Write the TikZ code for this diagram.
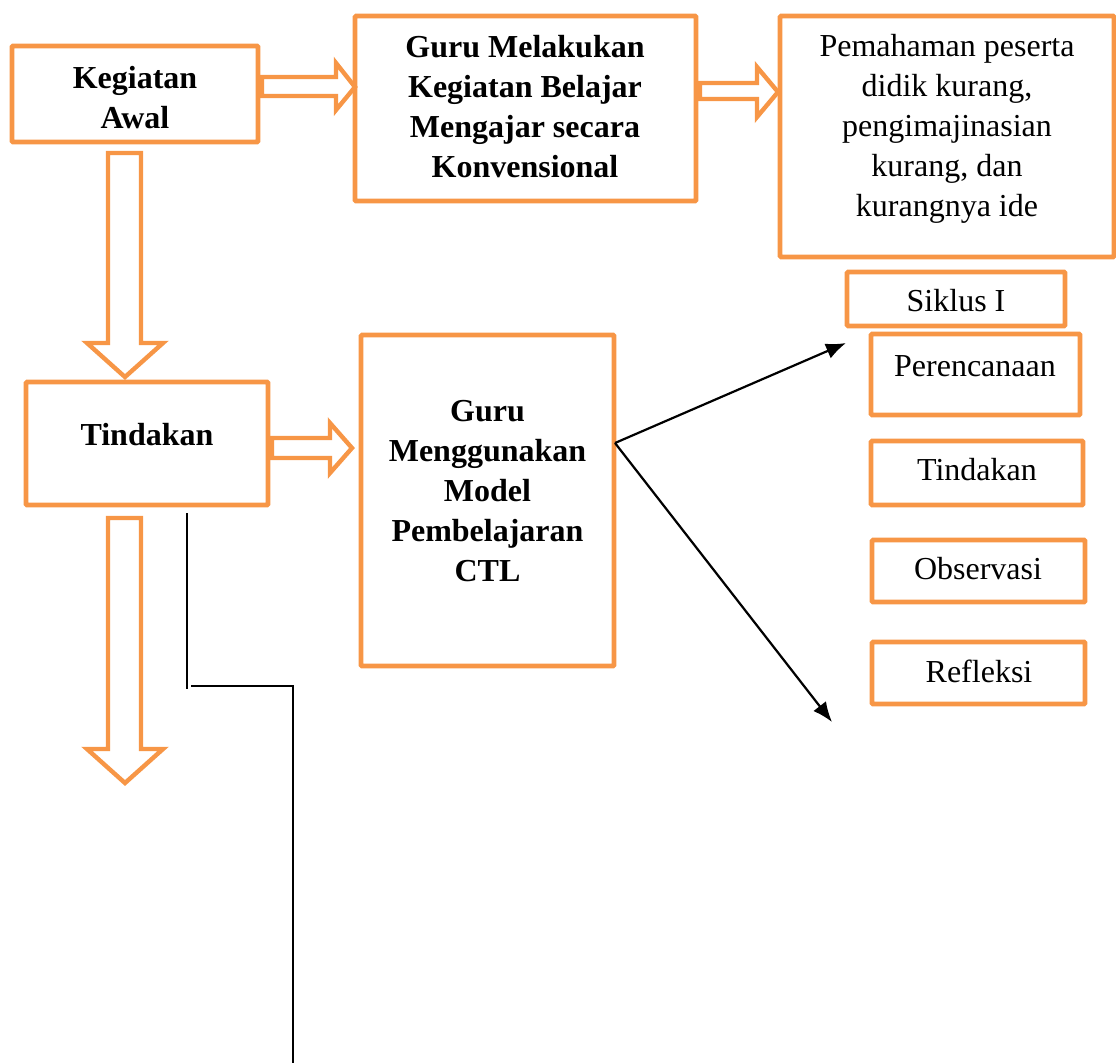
\documentclass[tikz,border=0pt]{standalone}
\usepackage{fontspec}
\setmainfont{Liberation Serif}
\usetikzlibrary{arrows.meta}
\definecolor{obox}{HTML}{F79646}
\tikzset{
  box/.style={draw=obox, line width=4.6pt, rectangle, inner sep=0pt, rounded corners=1pt},
  txt/.style={align=center, inner sep=0pt, font=\fontsize{32}{40}\selectfont},
  btxt/.style={txt, font=\fontsize{32}{40}\selectfont\bfseries},
  blk/.style={draw=obox, fill=white, line width=4.4pt, line join=miter},
  conn/.style={draw=black, line width=2.2pt},
  tip/.style={-{Latex[length=20pt,width=16pt]}}
}
\begin{document}
\begin{tikzpicture}[x=1pt,y=-1pt]
\useasboundingbox (0,0) rectangle (1116,1063);
% boxes
\node[box, minimum width=246pt, minimum height=96pt] (b1) at (135,94) {};
\node[box, minimum width=341pt, minimum height=185pt] (b2) at (525.5,108.5) {};
\node[box, minimum width=334pt, minimum height=241pt] (b3) at (947,136.5) {};
\node[box, minimum width=218pt, minimum height=54pt] (b4) at (956,299) {};
\node[box, minimum width=209pt, minimum height=81pt] (b5) at (975.5,374.5) {};
\node[box, minimum width=212pt, minimum height=64pt] (b6) at (977,473) {};
\node[box, minimum width=213pt, minimum height=62pt] (b7) at (978.5,571) {};
\node[box, minimum width=213pt, minimum height=62pt] (b8) at (978.5,673) {};
\node[box, minimum width=242pt, minimum height=123pt] (b9) at (147,443.5) {};
\node[box, minimum width=253pt, minimum height=331pt] (b10) at (487.5,500.5) {};
% texts
\node[btxt] (t1) at (135,98) {Kegiatan\\Awal};
\node[btxt] (t2) at (525,107) {Guru Melakukan\\Kegiatan Belajar\\Mengajar secara\\Konvensional};
\node[txt] (t3) at (947,129) {Pemahaman peserta\\didik kurang,\\pengimajinasian\\kurang, dan\\kurangnya ide};
\node[txt] (t4) at (956,301) {Siklus I};
\node[txt] (t5) at (975,366) {Perencanaan};
\node[txt] (t6) at (977,470) {Tindakan};
\node[txt] (t7) at (978,569) {Observasi};
\node[txt] (t8) at (979,671.5) {Refleksi};
\node[btxt] (t9) at (147,435) {Tindakan};
\node[btxt] (t10) at (487.5,491.5) {Guru\\Menggunakan\\Model\\Pembelajaran\\CTL};
% block arrows
\draw[blk] (262,77) -- (336,77) -- (336,63) -- (355,87) -- (336,110) -- (336,96) -- (262,96) -- cycle;
\draw[blk] (700,83) -- (757,83) -- (757,67) -- (778,92) -- (757,117) -- (757,99) -- (700,99) -- cycle;
\draw[blk] (272,438) -- (330,438) -- (330,423) -- (352,448) -- (330,473) -- (330,458) -- (272,458) -- cycle;
\draw[blk] (108,153) -- (141,153) -- (141,343) -- (163,343) -- (125,377) -- (87,343) -- (108,343) -- cycle;
\draw[blk] (108,518) -- (141,518) -- (141,749) -- (163,749) -- (125,783) -- (87,749) -- (108,749) -- cycle;
% black connectors
\coordinate (s1) at (615,443);
\coordinate (e1) at (846,343);
\coordinate (e2) at (832,722);
\draw[conn, tip] (s1) -- (e1);
\draw[conn, tip] (s1) -- (e2);
\coordinate (v1) at (187,513);
\coordinate (v2) at (187,689);
\coordinate (h1) at (191,686);
\coordinate (h2) at (293,686);
\coordinate (h3) at (293,1063);
\draw[conn] (v1) -- (v2);
\draw[conn] (h1) -- (h2) -- (h3);
\end{tikzpicture}
\end{document}
